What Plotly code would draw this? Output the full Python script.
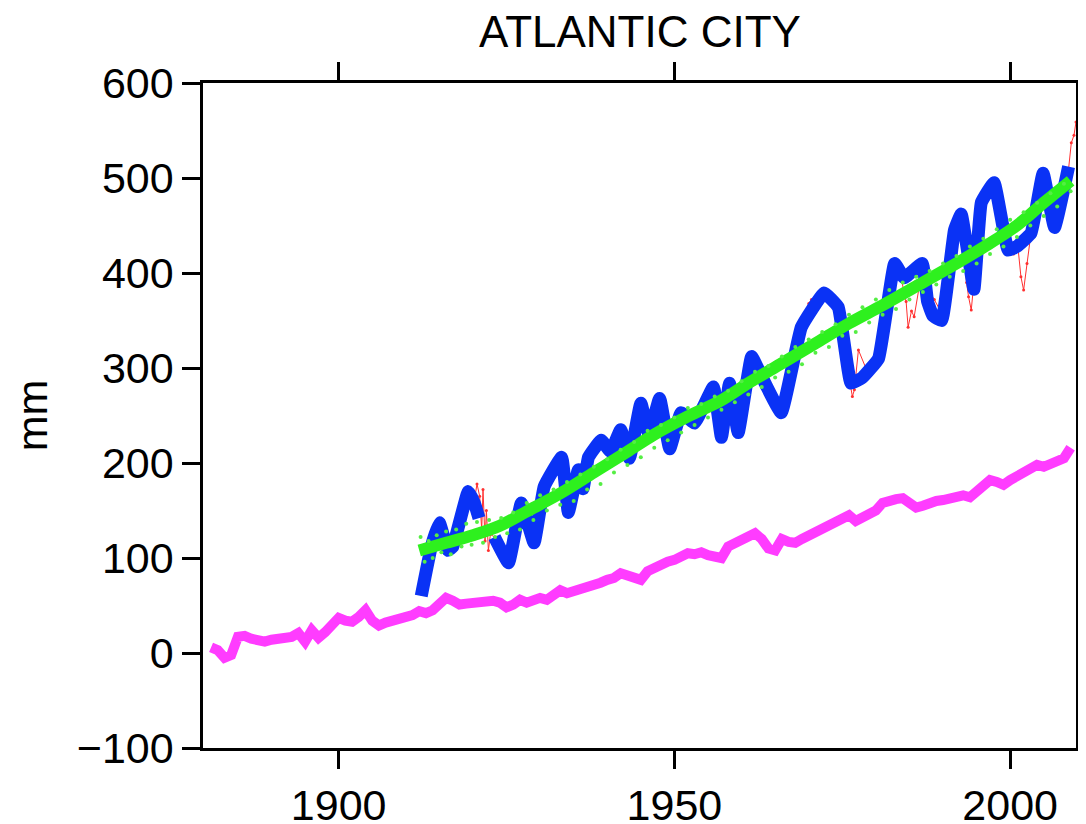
import plotly.graph_objects as go

# ---- data ----
magenta_years = list(range(1881, 2010))
magenta_vals = [6, 3, -5, -2, 17, 18, 15, 13, 12, 14, 15, 16, 17, 21, 12, 24, 16, 22, 30, 37,
                34, 33, 38, 45, 34, 29, 32, 34, 35, 36, 40, 44, 42, 45, 50, 58, 55, 51, 52, 53,
                54, 53, 55, 53, 48, 51, 56, 53, 55, 58, 56, 60, 66, 63, 65, 66, 69, 70, 74, 77,
                79, 84, 82, 80, 77, 86, 90, 95, 96, 98, 101, 105, 104, 106, 103, 101, 100, 112, 116, 119,
                123, 126, 120, 110, 108, 120, 117, 116, 120, 124, 127, 130, 134, 138, 142, 145, 139, 143, 147, 150,
                158, 161, 162, 163, 158, 153, 155, 158, 160, 161, 163, 165, 166, 164, 170, 176, 182, 180, 177, 182,
                186, 190, 193, 198, 196, 199, 200, 205, 216]

blue_years = [1912.3, 1913.8, 1915.0, 1916.3, 1917.0, 1919.3, 1920.2, 1920.9,
              None,
              1923.2, 1925.3, 1927.2, 1929.1, 1930.6, 1933.2, 1934.2, 1935.7, 1936.4, 1937.2,
              1939.1, 1940.5, 1942.0, 1943.3, 1945.0, 1946.2, 1947.8, 1949.3, 1951.0, 1953.0,
              1955.8, 1957.0, 1958.2, 1959.5, 1961.5, 1963.0, 1965.9, 1968.9, 1972.3, 1974.4,
              1976.3, 1978.0, 1980.4, 1982.8, 1984.2, 1986.9, 1987.7, 1988.5, 1989.8, 1991.7,
              1992.7, 1994.6, 1995.7, 1997.6, 1999.7, 2001.0, 2003.1, 2004.9, 2006.6, 2008.7]
blue_vals = [60, 112, 137, 108, 112, 170, 158, 142,
             None,
             122, 95, 158, 116, 175, 206, 148, 193, 173, 206,
             224, 212, 235, 205, 263, 230, 268, 215, 253, 242,
             280, 227, 284, 232, 312, 291, 253, 343, 379, 364,
             284, 290, 310, 410, 395, 410, 370, 355, 350, 445,
             462, 383, 474, 495, 424, 428, 442, 505, 448, 512]

red_years = [1912.3, 1914.0, 1915.0, 1916.3, 1917.0, 1919.3, 1920.2, 1920.6, 1921.0, 1921.3,
             1921.5, 1921.8, 1922.0, 1922.3, 1922.6, 1923.2, 1925.3, 1927.2, 1929.1, 1930.6,
             1933.2, 1934.2, 1935.7, 1936.4, 1937.2, 1939.1, 1940.5, 1942.0, 1943.3, 1945.0,
             1946.2, 1947.8, 1949.3, 1951.0, 1953.0, 1955.8, 1957.0, 1958.2, 1959.5, 1961.5,
             1963.0, 1965.9, 1968.5, 1969.3, 1970.0, 1970.4, 1971.0, 1972.3, 1974.4, 1975.5,
             1976.0, 1976.5, 1976.8, 1977.4, 1978.5, 1980.4, 1982.8, 1983.8, 1984.5, 1984.8,
             1985.3, 1985.7, 1986.8, 1987.8, 1988.7, 1990.0, 1991.2, 1992.7, 1993.5, 1993.8,
             1994.2, 1995.7, 1997.6, 1998.7, 1999.7, 2000.5, 2001.2, 2001.6, 2002.0, 2002.5,
             2003.1, 2004.9, 2006.6, 2008.7, 2009.1, 2009.5, 2009.8]
red_vals = [62, 115, 135, 110, 115, 168, 160, 178, 165, 130,
            172, 118, 150, 108, 125, 122, 97, 156, 118, 175,
            204, 150, 193, 173, 205, 222, 213, 234, 207, 261,
            231, 266, 217, 252, 243, 278, 229, 282, 234, 310,
            290, 255, 345, 352, 368, 372, 362, 378, 362, 330,
            290, 270, 277, 319, 300, 310, 405, 393, 370, 343,
            360, 354, 400, 382, 372, 355, 424, 455, 390, 375,
            361, 470, 487, 459, 430, 420, 424, 396, 382, 410,
            442, 500, 450, 510, 537, 545, 559]

green_years = [1912, 1916, 1920, 1924, 1928, 1933, 1938, 1943, 1947, 1952, 1957,
               1961, 1966, 1971, 1976, 1981, 1986, 1991, 1996, 2001, 2005, 2009]
green_vals = [108, 116, 124, 134, 149, 168, 190, 212, 230, 249, 266,
              284, 305, 326, 347, 366, 386, 406, 427, 450, 474, 497]

gdot_years = [1912.2, 1912.8, 1913.4, 1914.0, 1914.6, 1915.3, 1916.0, 1916.7, 1917.5, 1918.3,
              1919.0, 1919.8, 1920.6, 1921.5, 1922.4, 1923.3, 1924.2, 1925.1, 1926.0, 1927.0,
              1928.0, 1929.0, 1930.0, 1931.0, 1932.0, 1933.0, 1934.0, 1935.0, 1936.0, 1937.0,
              1938.0, 1939.0, 1940.0, 1941.0, 1942.0, 1943.0, 1944.0, 1945.0, 1946.0, 1947.0,
              1948.0, 1949.0, 1950.0, 1951.0, 1952.0, 1953.0, 1954.0, 1955.0, 1956.0, 1957.0,
              1958.0, 1959.0, 1960.0, 1961.0, 1962.0, 1963.0, 1964.0, 1965.0, 1966.0, 1967.0,
              1968.0, 1969.0, 1970.0, 1971.0, 1972.0, 1973.0, 1974.0, 1975.0, 1976.0, 1977.0,
              1978.0, 1979.0, 1980.0, 1981.0, 1982.0, 1983.0, 1984.0, 1985.0, 1986.0, 1987.0,
              1988.0, 1989.0, 1990.0, 1991.0, 1992.0, 1993.0, 1994.0, 1995.0, 1996.0, 1997.0,
              1998.0, 1999.0, 2000.0, 2001.0, 2002.0, 2003.0, 2004.0, 2005.0, 2006.0, 2007.0,
              2008.0, 2009.0]
gdot_vals = [122, 96, 118, 100, 124, 106, 128, 104, 130, 112,
             136, 114, 138, 116, 140, 122, 142, 126, 148, 130,
             158, 140, 166, 150, 172, 156, 180, 160, 188, 172,
             196, 178, 204, 190, 214, 198, 222, 206, 234, 216,
             240, 224, 248, 232, 258, 240, 262, 248, 270, 256,
             276, 264, 286, 272, 296, 280, 302, 290, 312, 296,
             322, 304, 330, 316, 338, 322, 346, 334, 356, 338,
             364, 348, 372, 356, 382, 362, 390, 372, 396, 380,
             402, 388, 410, 396, 418, 402, 428, 410, 436, 420,
             446, 428, 456, 438, 464, 450, 474, 460, 484, 470,
             494, 486]

x_ticks = [1900, 1950, 2000]
y_ticks = [-100, 0, 100, 200, 300, 400, 500, 600]

FONT = "Liberation Sans, Arial, Helvetica, sans-serif"

fig = go.Figure()
fig.add_trace(go.Scatter(x=magenta_years, y=magenta_vals, mode="lines",
                         line=dict(color="#ff3cff", width=10), hoverinfo="skip"))
fig.add_trace(go.Scatter(x=red_years, y=red_vals, mode="lines+markers",
                         line=dict(color="#ff3030", width=1),
                         marker=dict(color="#ff3030", size=3), hoverinfo="skip"))
fig.add_trace(go.Scatter(x=blue_years, y=blue_vals, mode="lines",
                         line=dict(color="#0a32f5", width=13, shape="spline", smoothing=0.3),
                         hoverinfo="skip"))
fig.add_trace(go.Scatter(x=green_years, y=green_vals, mode="lines",
                         line=dict(color="#2ef01e", width=12, shape="spline"), hoverinfo="skip"))
fig.add_trace(go.Scatter(x=gdot_years, y=gdot_vals, mode="markers",
                         marker=dict(color="#55ee44", size=4), hoverinfo="skip"))

axis_common = dict(showline=True, linecolor="black", linewidth=2.5, mirror="ticks",
                   ticks="outside", ticklen=18, tickwidth=2.5, tickcolor="black",
                   showgrid=False, zeroline=False, automargin=False,
                   tickfont=dict(family=FONT, size=43, color="black"))

W, H = 1078, 816
fig.update_layout(
    width=W, height=H,
    margin=dict(l=195, r=10, t=75, b=76),
    paper_bgcolor="white", plot_bgcolor="white",
    showlegend=False,
    title=dict(text="ATLANTIC CITY", x=632 / W, xanchor="center",
               y=1 - 24 / H, yanchor="middle", yref="container",
               font=dict(family=FONT, size=44, color="black")),
    xaxis=dict(range=[1879.8, 2009.8], tickvals=x_ticks, ticktext=[str(v) for v in x_ticks],
               **axis_common),
    yaxis=dict(range=[-100, 600], tickvals=y_ticks,
               ticktext=[("\u2212" + str(-v)) if v < 0 else str(v) for v in y_ticks],
               title=dict(text="mm", font=dict(family=FONT, size=43, color="black"), standoff=28),
               **axis_common),
)

fig.write_html("out.html")
